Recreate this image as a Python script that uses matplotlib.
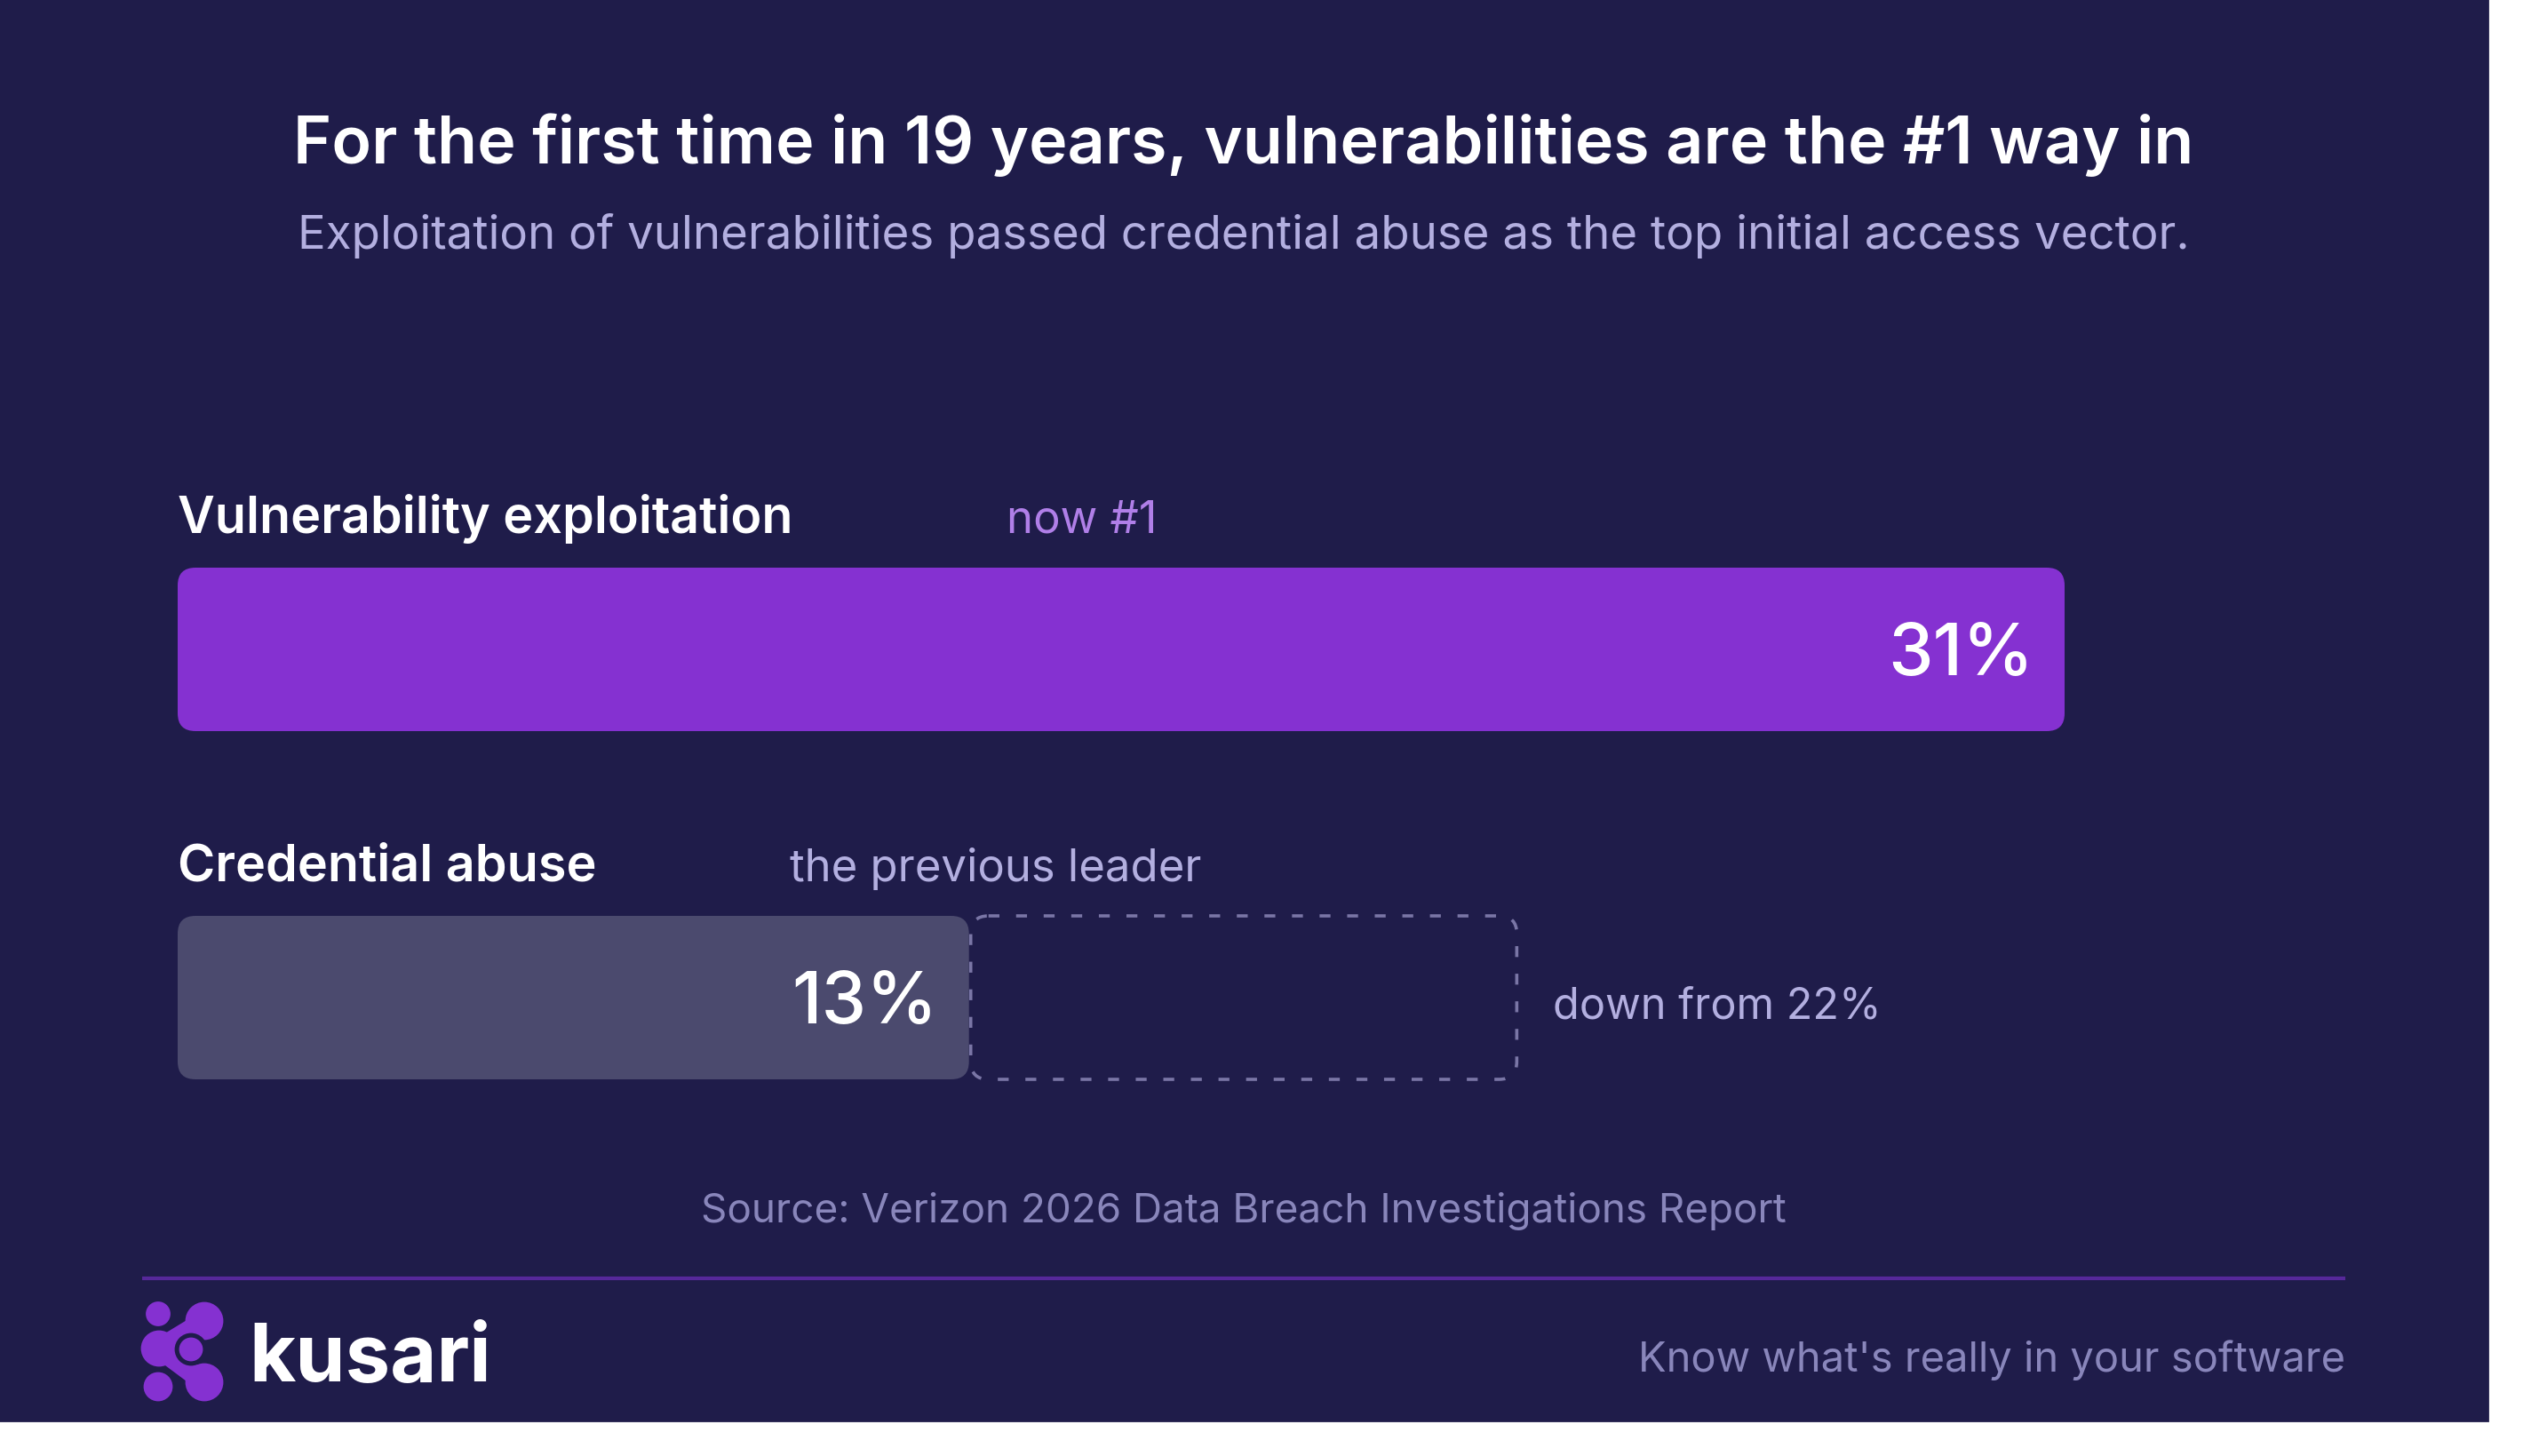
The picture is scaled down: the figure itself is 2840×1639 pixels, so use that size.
import matplotlib.pyplot as plt
from matplotlib.patches import FancyBboxPatch, Circle, Rectangle

W, H, DPI = 2840, 1640, 200

title = "For the first time in 19 years, vulnerabilities are the #1 way in"
subtitle = "Exploitation of vulnerabilities passed credential abuse as the top initial access vector."
categories = ["Vulnerability exploitation", "Credential abuse"]
shares = [31, 13]
notes = ["now #1", "the previous leader"]
previous_share = 22
previous_note = "down from 22%"
source = "Source: Verizon 2026 Data Breach Investigations Report"
brand = "kusari"
tagline = "Know what's really in your software"

BG = "#1f1c4a"
PURPLE = "#8531d1"
GREY_BAR = "#4b4a6e"
LAVENDER = "#b3afe0"
MUTED = "#8986bb"
NOTE_PURPLE = "#b07fe8"
DASH = "#7a76a6"
RULE = "#56289a"

plt.rcParams['font.family'] = ['Inter', 'DejaVu Sans']

fig = plt.figure(figsize=(W / DPI, H / DPI), dpi=DPI, facecolor='white')

# pixel-coordinate layer for the panel, headings and footer
deco = fig.add_axes([0, 0, 1, 1])
deco.set_xlim(0, W)
deco.set_ylim(H, 0)
deco.axis('off')
deco.add_patch(Rectangle((0, 0), 2800, 1600, color=BG, zorder=0))

deco.text(1400, 184, title, ha='center', va='baseline', fontsize=26.5,
          fontweight='semibold', color='white')
deco.text(1400, 280, subtitle, ha='center', va='baseline', fontsize=19,
          color=LAVENDER)
deco.text(1400, 1376, source, ha='center', va='baseline', fontsize=16.5,
          color=MUTED)

# footer
deco.plot([160, 2640], [1440, 1440], color=RULE, lw=1.5, solid_capstyle='butt')
deco.text(2640, 1544, tagline, ha='right', va='baseline', fontsize=16.95,
          color=MUTED)
deco.text(280, 1555, brand, ha='left', va='baseline', fontsize=32.5,
          fontweight='bold', color='white')

# logo mark
deco.plot([230, 179], [1488, 1519], color=PURPLE, lw=8, solid_capstyle='round', zorder=3)
deco.plot([179, 230], [1519, 1557], color=PURPLE, lw=8, solid_capstyle='round', zorder=3)
for cx, cy, r in [(178, 1480, 12.5), (230, 1488, 20), (179, 1519, 19),
                  (178, 1562, 15), (230, 1557, 20)]:
    deco.add_patch(Circle((cx, cy), r, color=PURPLE, zorder=3))
deco.add_patch(Circle((215, 1520), 17, color=BG, zorder=4))
deco.add_patch(Circle((215, 1520), 12, color=PURPLE, zorder=5))

# bars, x in percent, y in pixels
ax = fig.add_axes([200 / W, 0, 2124 / W, 1])
ax.set_xlim(0, max(shares))
ax.set_ylim(H, 0)
ax.axis('off')

k = 2124 / max(shares)  # pixels per percent
tops = [640, 1032]
bar_h = 184
colors = [PURPLE, GREY_BAR]
note_x = [1133, 889]
round_style = f"round,pad=0,rounding_size={20 / k}"

for i in range(len(shares)):
    ax.add_patch(FancyBboxPatch((0, tops[i]), shares[i], bar_h, boxstyle=round_style,
                                mutation_aspect=k, fc=colors[i], ec='none', zorder=2))
    ax.text(shares[i] - 35 / k, tops[i] + 120, f"{shares[i]}%", ha='right', va='baseline',
            fontsize=29, fontweight='medium', color='white', zorder=3)
    ax.text(0, tops[i] - 40, categories[i], ha='left', va='baseline', fontsize=20.7,
            fontweight='semibold', color='white')
    ax.text((note_x[i] - 200) / k, tops[i] - 40, notes[i], ha='left', va='baseline',
            fontsize=18.3, color=NOTE_PURPLE if i == 0 else LAVENDER)

# ghost of the previous share
ax.add_patch(FancyBboxPatch((shares[1] + 2 / k, tops[1]), previous_share - shares[1] - 2 / k, bar_h,
                            boxstyle=round_style, mutation_aspect=k, fill=False,
                            ec=DASH, lw=1.3, linestyle=(0, (3.4, 5.2)), zorder=1))
ax.text(previous_share + 41 / k, 1147, previous_note, ha='left', va='baseline',
        fontsize=17.5, color=LAVENDER, clip_on=False)

fig.savefig('out.png', dpi=DPI, facecolor='white')
